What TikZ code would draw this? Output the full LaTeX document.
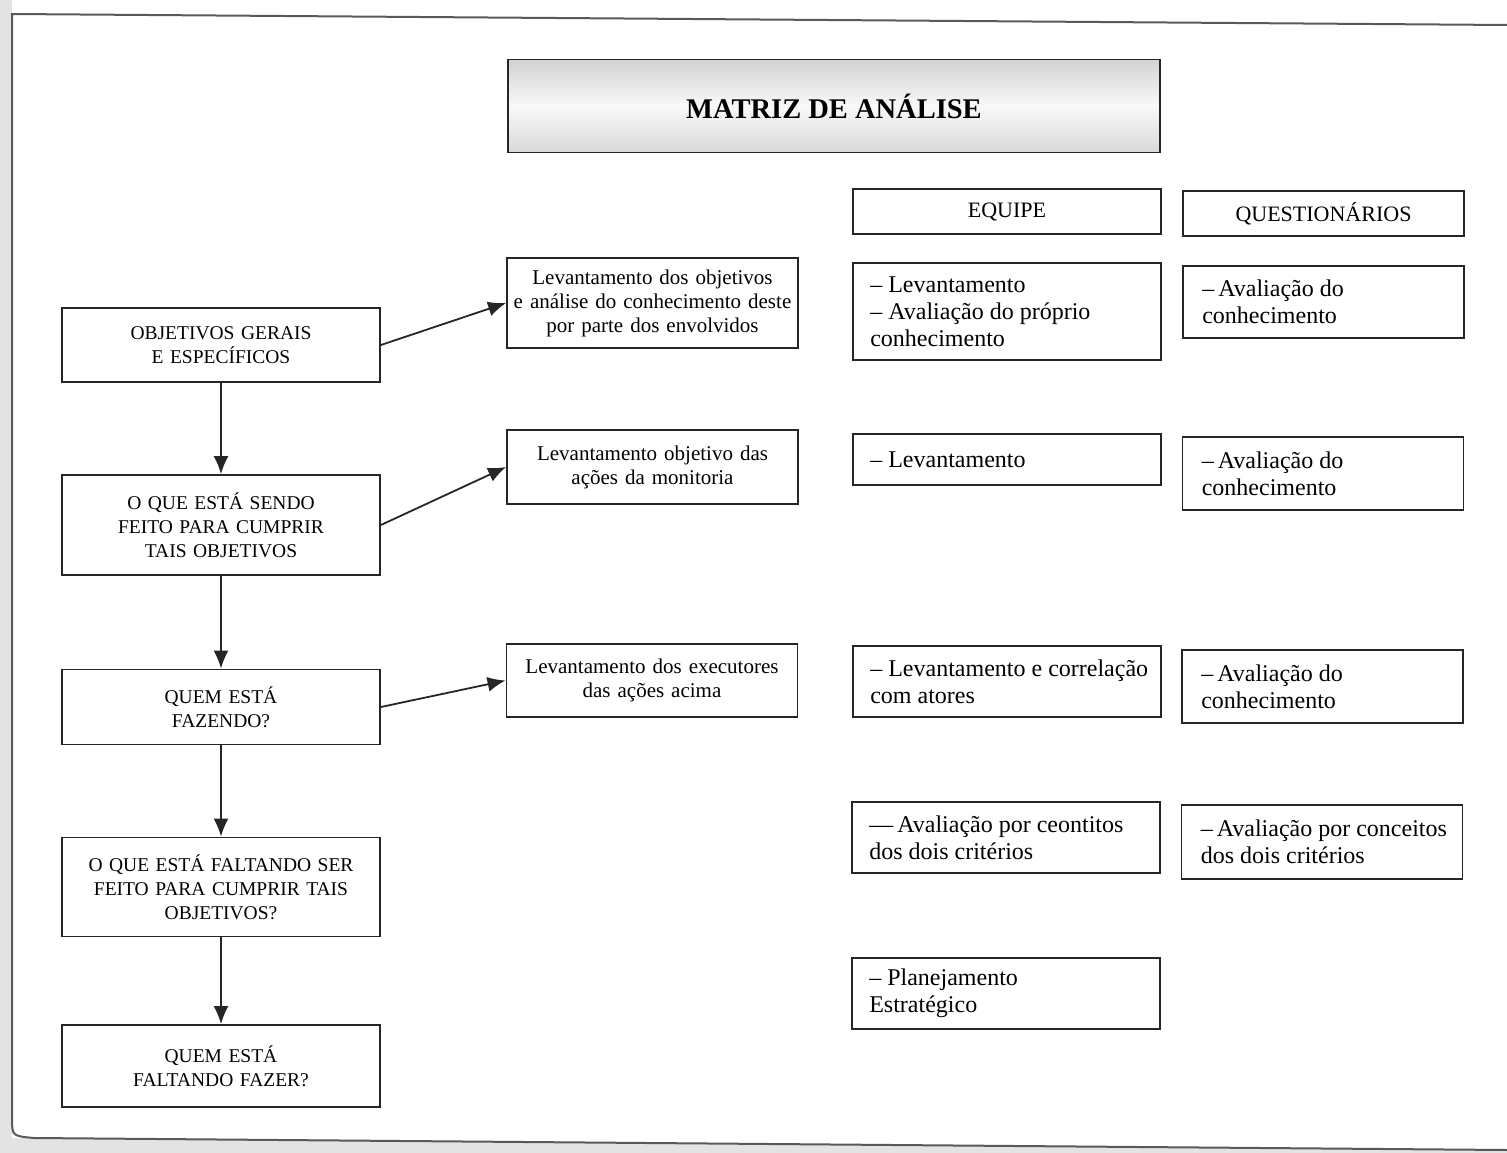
\documentclass[tikz,border=0pt]{standalone}
\usepackage{fontspec}
\setmainfont{Liberation Serif}
\usetikzlibrary{arrows.meta}
\begin{document}
\begin{tikzpicture}[x=1pt,y=-1pt,
 box/.style={draw=black!85, line width=1.8pt, rectangle, inner ysep=0pt},
 lbox/.style={box, minimum width=318pt, text width=308pt, inner xsep=5pt, align=center, font=\fontsize{19.5}{24}\selectfont},
 mbox/.style={box, minimum width=291pt, text width=281pt, inner xsep=5pt, align=center, font=\fontsize{21}{24}\selectfont},
 ebox/.style={box, minimum width=308pt},
 qbox/.style={box, minimum width=281pt},
 rtext/.style={anchor=west, inner sep=0pt, align=left, font=\fontsize{24}{27}\selectfont},
 hbox/.style={box, align=center, font=\fontsize{22}{26}\selectfont},
 arr/.style={line width=1.8pt, black!85, -{Latex[length=18pt,width=15pt]}}
]
\useasboundingbox (0,0) rectangle (1507,1153);
% page background and frame
\fill[gray!22] (0,0) rectangle (12,1153);
\fill[gray!22] (0,1138) -- (1507,1150) -- (1507,1153) -- (0,1153) -- cycle;
\draw[gray!70!black, line width=2pt] (1507,25) -- (12,14) -- (12,1118) .. controls (12,1136) .. (34,1138) -- (1507,1150);

% title
\node[box, minimum width=652pt, minimum height=93pt, top color=gray!35, bottom color=gray!30, middle color=gray!5,
      font=\fontsize{28.5}{32}\selectfont\bfseries] (title) at (834,106) {MATRIZ DE ANÁLISE};

% headers
\node[hbox, minimum width=308pt, minimum height=45pt] (equipe) at (1007,211.5) {EQUIPE};
\node[hbox, minimum width=281pt, minimum height=45pt] (quest) at (1323.5,213.5) {QUESTIONÁRIOS};

% left column
\node[lbox, minimum height=74pt] (L1) at (221,345) {OBJETIVOS GERAIS\\E ESPECÍFICOS};
\node[lbox, minimum height=100pt] (L2) at (221,525) {O QUE ESTÁ SENDO\\FEITO PARA CUMPRIR\\TAIS OBJETIVOS};
\node[lbox, minimum height=75pt] (L3) at (221,707) {QUEM ESTÁ\\FAZENDO?};
\node[lbox, minimum height=99pt] (L4) at (221,887) {O QUE ESTÁ FALTANDO SER\\FEITO PARA CUMPRIR TAIS\\OBJETIVOS?};
\node[lbox, minimum height=82pt] (L5) at (221,1066) {QUEM ESTÁ\\FALTANDO FAZER?};

% middle column
\node[mbox, minimum height=90pt] (M1) at (652.5,303) {Levantamento dos objetivos\\e análise do conhecimento deste\\por parte dos envolvidos};
\node[mbox, minimum height=74pt] (M2) at (652.5,467) {Levantamento objetivo das\\ações da monitoria};
\node[mbox, minimum height=73pt] (M3) at (652,680.5) {Levantamento dos executores\\das ações acima};

% equipe column
\node[ebox, minimum height=97pt] (E1) at (1007,311.5) {};
\node[rtext] (E1t) at ([xshift=18pt]E1.west) {– Levantamento\\– Avaliação do próprio\\conhecimento};
\node[ebox, minimum height=51pt] (E2) at (1007,459.5) {};
\node[rtext] (E2t) at ([xshift=18pt]E2.west) {– Levantamento};
\node[ebox, minimum height=71pt] (E3) at (1007,681.5) {};
\node[rtext] (E3t) at ([xshift=18pt]E3.west) {– Levantamento e correlação\\com atores};
\node[ebox, minimum height=71pt] (E4) at (1006,837.5) {};
\node[rtext] (E4t) at ([xshift=18pt]E4.west) {—\,Avaliação por ceontitos\\dos dois critérios};
\node[ebox, minimum height=71pt] (E5) at (1006,993.5) {};
\node[rtext] (E5t) at ([xshift=18pt]E5.west) {– Planejamento\\Estratégico};

% questionarios column
\node[qbox, minimum height=72pt] (Q1) at (1323.5,302) {};
\node[rtext] (Q1t) at ([xshift=20pt]Q1.west) {–\,Avaliação do\\conhecimento};
\node[qbox, minimum height=73pt] (Q2) at (1323,473.5) {};
\node[rtext] (Q2t) at ([xshift=20pt]Q2.west) {–\,Avaliação do\\conhecimento};
\node[qbox, minimum height=73pt] (Q3) at (1322.5,686.5) {};
\node[rtext] (Q3t) at ([xshift=20pt]Q3.west) {–\,Avaliação do\\conhecimento};
\node[qbox, minimum height=74pt] (Q4) at (1322,842) {};
\node[rtext] (Q4t) at ([xshift=20pt]Q4.west) {–\,Avaliação por conceitos\\dos dois critérios};

% vertical arrows
\draw[arr] (L1) -- (L2);
\draw[arr] (L2) -- (L3);
\draw[arr] (L3) -- (L4);
\draw[arr] (L4) -- (L5);

% diagonal arrows
\draw[arr] (L1.east) -- (M1.west);
\draw[arr] (L2.east) -- (M2.west);
\draw[arr] (L3.east) -- (M3.west);
\end{tikzpicture}
\end{document}
